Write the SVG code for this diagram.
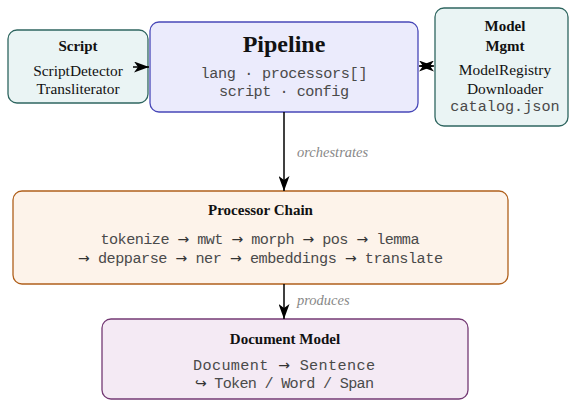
<svg xmlns="http://www.w3.org/2000/svg" width="571" height="403" viewBox="0 0 571 403">
<defs>
<marker id="stealth" viewBox="0 0 15 11" refX="15" refY="5.5" markerWidth="15" markerHeight="11" orient="auto-start-reverse" markerUnits="userSpaceOnUse">
<path d="M0,0 L15,5.5 L0,11 L4,5.5 Z" fill="#000"/>
</marker>
<style>
.title{font-family:"Liberation Serif","Times New Roman",serif;font-weight:bold;font-size:15px;fill:#111;text-anchor:middle}
.serif{font-family:"Liberation Serif","Times New Roman",serif;font-size:15.4px;fill:#111;text-anchor:middle}
.mono{font-family:"Liberation Mono","DejaVu Sans Mono",monospace;font-size:15.2px;fill:#4a4a4a;text-anchor:middle}
.ar{font-family:"DejaVu Sans",sans-serif;font-size:14px;fill:#333}
.lbl{font-family:"Liberation Serif","Times New Roman",serif;font-style:italic;font-size:14.5px;fill:#888}
.edge{stroke:#000;stroke-width:1.5;fill:none}
.teal{fill:#eaf4f4;stroke:#2f6660;stroke-width:1.3}
</style>
</defs>
<rect width="571" height="403" fill="#fff"/>
<g id="script">
<rect class="teal" x="8" y="30" width="140" height="73" rx="9"/>
<text class="title" x="78" y="50.5">Script</text>
<text class="serif" x="78" y="76">ScriptDetector</text>
<text class="serif" x="78" y="94">Transliterator</text>
</g>
<g id="pipeline">
<rect x="150" y="22" width="268" height="90" rx="9" fill="#ebebfc" stroke="#4848b8" stroke-width="1.3"/>
<text class="title" x="284" y="52" style="font-size:24px">Pipeline</text>
<text class="mono" x="284" y="78" textLength="167" lengthAdjust="spacing">lang · processors[]</text>
<text class="mono" x="284" y="96" textLength="130" lengthAdjust="spacing">script · config</text>
</g>
<g id="model-mgmt">
<rect class="teal" x="435" y="8" width="133" height="118" rx="9"/>
<text class="title" x="505" y="31">Model</text>
<text class="title" x="505" y="51">Mgmt</text>
<text class="serif" x="505" y="75">ModelRegistry</text>
<text class="serif" x="505" y="93.5">Downloader</text>
<text class="mono" x="505" y="111">catalog.json</text>
</g>
<g id="processor-chain">
<rect x="13" y="191" width="495" height="93" rx="9" fill="#fdf3ea" stroke="#b0601c" stroke-width="1.3"/>
<text class="title" x="260.5" y="215">Processor Chain</text>
<text class="mono" x="260" y="244" textLength="319" lengthAdjust="spacing">tokenize <tspan class="ar">→</tspan> mwt <tspan class="ar">→</tspan> morph <tspan class="ar">→</tspan> pos <tspan class="ar">→</tspan> lemma</text>
<text class="mono" x="260.5" y="263" textLength="365" lengthAdjust="spacing"><tspan class="ar">→</tspan> depparse <tspan class="ar">→</tspan> ner <tspan class="ar">→</tspan> embeddings <tspan class="ar">→</tspan> translate</text>
</g>
<g id="document-model">
<rect x="102" y="319" width="366" height="80" rx="9" fill="#f4eaf4" stroke="#743a74" stroke-width="1.3"/>
<text class="title" x="285" y="344">Document Model</text>
<text class="mono" x="284" y="370" textLength="182" lengthAdjust="spacing">Document <tspan class="ar">→</tspan> Sentence</text>
<text class="mono" x="284.5" y="388" textLength="179" lengthAdjust="spacing"><tspan class="ar">↪</tspan> Token / Word / Span</text>
</g>
<g id="connectors">
<path class="edge" d="M133,67 L149,67" marker-end="url(#stealth)"/>
<path class="edge" d="M419,66 L434,66" marker-start="url(#stealth)" marker-end="url(#stealth)"/>
<path class="edge" d="M284,112 L284,191" marker-end="url(#stealth)"/>
<text class="lbl" x="297" y="157">orchestrates</text>
<path class="edge" d="M284,284 L284,319" marker-end="url(#stealth)"/>
<text class="lbl" x="297" y="305">produces</text>
</g>
</svg>
